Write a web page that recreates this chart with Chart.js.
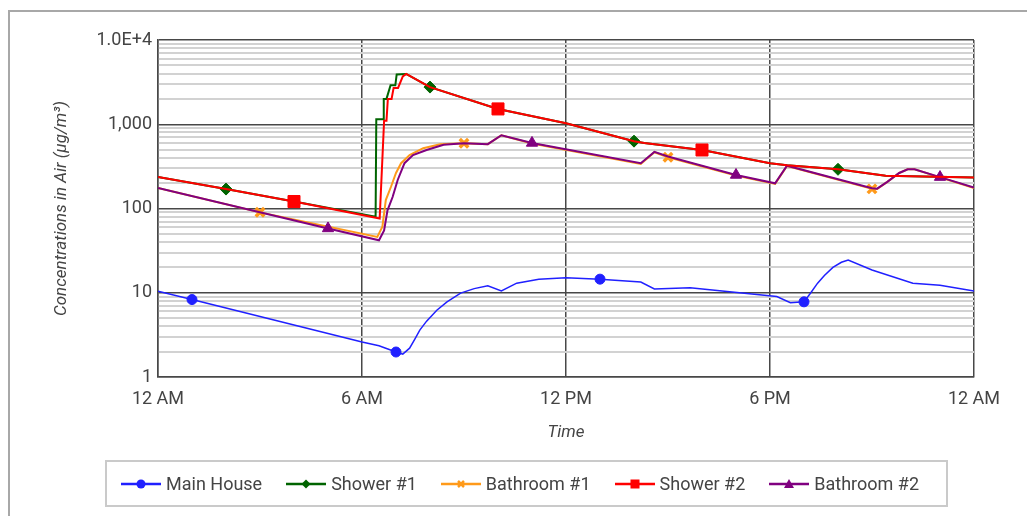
<!DOCTYPE html>
<html>
<head>
<meta charset="utf-8">
<script src="https://cdn.jsdelivr.net/npm/chart.js@4.4.1/dist/chart.umd.min.js"></script>
<style>
  body { margin: 0; background: #fff; width: 1027px; height: 516px; overflow: hidden; position: relative; font-family: Roboto, sans-serif; }
  #frame { position: absolute; left: 8px; top: 10px; width: 1100px; height: 600px; border-left: 2px solid #a8a8a8; border-top: 2px solid #a8a8a8; }
  #chart { position: absolute; left: 0; top: 0; }
  #legend { position: absolute; left: 105px; top: 460px; width: 843px; height: 47px; box-sizing: border-box;
            border: 2px solid #cacaca; display: flex; align-items: center; padding-left: 14px; }
  .item { display: flex; align-items: center; margin-right: 24px; font-size: 18px; color: #444; }
  .item svg { margin-right: 5px; }
</style>
</head>
<body>
<div id="frame"></div>
<canvas id="chart" width="1027" height="516"></canvas>
<div id="legend"></div>
<script>
// hours since midnight, concentrations in ug/m3
var mainHours = [0, 1, 6, 6.5, 7, 7.2, 7.4, 7.55, 7.7, 7.9, 8.2, 8.5, 8.9, 9.3, 9.7, 10.1, 10.55, 11.2, 12, 13, 14.2, 14.6, 15.65, 17.1, 18.2, 18.6, 19, 19.2, 19.4, 19.6, 19.85, 20.1, 20.3, 21, 22.2, 23, 24];
var mainVals  = [10.4, 8.3, 2.6, 2.35, 1.98, 1.87, 2.2, 2.8, 3.6, 4.6, 6.2, 7.8, 9.9, 11.2, 12.1, 10.5, 13, 14.5, 15.1, 14.5, 13.4, 11.1, 11.5, 10, 9, 7.6, 7.8, 10, 13, 16, 20, 23, 24.5, 18.6, 13, 12.3, 10.5];

var shower1Hours = [0, 2, 4, 6.4, 6.42, 6.62, 6.64, 6.72, 6.84, 6.98, 7.02, 7.3, 8, 10, 12, 14, 14.3, 16, 18, 18.5, 20, 21.4, 24];
var shower1Vals  = [237, 170, 121, 80, 1150, 1150, 2000, 2000, 2900, 2900, 3900, 3950, 2760, 1520, 1030, 630, 600, 495, 345, 326, 292, 244, 233];

var bath1Hours = [0, 3, 6.45, 6.6, 6.7, 6.85, 7, 7.15, 7.4, 7.8, 8.3, 9, 9.7, 10.1, 11, 14.2, 14.6, 15, 17, 18.15, 18.5, 21, 21.15, 21.45, 21.8, 22.05, 22.25, 23, 24];
var bath1Vals  = [175, 90, 46, 61, 126, 180, 264, 345, 430, 520, 580, 595, 580, 740, 590, 338, 465, 405, 246, 196, 320, 171, 170, 207, 264, 292, 292, 234, 175];

var shower2Hours = [0, 2, 4, 6.52, 6.65, 6.72, 6.76, 6.87, 6.93, 7.06, 7.2, 7.3, 8, 10, 12, 14, 14.3, 16, 18, 18.5, 20, 21.4, 24];
var shower2Vals  = [237, 170, 121, 76, 1100, 1100, 2000, 2000, 2700, 2700, 3700, 3950, 2760, 1520, 1030, 630, 600, 495, 345, 326, 292, 244, 233];

var bath2Hours = [0, 5, 6.5, 6.65, 6.75, 6.9, 7.05, 7.25, 7.5, 7.9, 8.4, 9, 9.7, 10.1, 11, 14.2, 14.6, 15, 17, 18.15, 18.5, 21, 21.15, 21.45, 21.8, 22.05, 22.25, 23, 24];
var bath2Vals  = [175, 58, 42, 55, 95, 137, 218, 345, 430, 495, 570, 595, 580, 740, 600, 345, 470, 415, 250, 199, 322, 174, 172, 207, 264, 292, 292, 236, 177];

var seriesNames = ['Main House', 'Shower #1', 'Bathroom #1', 'Shower #2', 'Bathroom #2'];
var markerHours = [[1, 7, 13, 19], [2, 8, 14, 20], [3, 9, 15, 21], [4, 10, 16, 22], [5, 11, 17, 23]];

var xTickVals = [0, 6, 12, 18, 24];
var xTickLabels = ['12 AM', '6 AM', '12 PM', '6 PM', '12 AM'];
var yMajor = [1, 10, 100, 1000, 10000];
var yTickLabels = ['1', '10', '100', '1,000', '1.0E+4'];

var colors = ['#2020ff', '#006400', '#ff9a1a', '#ff0000', '#800080'];
var styles = ['circle', 'rectRot', 'crossRot', 'rect', 'triangle'];
var radii = [5, 6, 6, 8.5, 6.5];
var widths = [1.5, 2, 2, 2, 2];
var orders = [0, 3, 4, 1, 2];

function toPoints(h, v) {
    var pts = [];
    for (var i = 0; i < h.length; i++) {
        pts.push({ x: h[i], y: v[i] });
    }
    return pts;
}

var allHours = [mainHours, shower1Hours, bath1Hours, shower2Hours, bath2Hours];
var allVals = [mainVals, shower1Vals, bath1Vals, shower2Vals, bath2Vals];

var datasets = [];
for (let i = 0; i < seriesNames.length; i++) {
    datasets.push({
        label: seriesNames[i],
        data: toPoints(allHours[i], allVals[i]),
        borderColor: colors[i],
        backgroundColor: colors[i],
        borderWidth: widths[i],
        pointStyle: styles[i],
        pointBorderWidth: i == 2 ? 3.5 : 1,
        pointRadius: function (ctx) {
            return markerHours[i].indexOf(ctx.raw.x) >= 0 ? radii[i] : 0;
        },
        pointHoverRadius: 0,
        tension: 0,
        order: orders[i]
    });
}

// y ticks: every 1..9 per decade
var yTicks = [];
for (var d = 1; d < 10000; d *= 10) {
    for (var k = 1; k < 10; k++) yTicks.push(k * d);
}
yTicks.push(10000);

function isMajor(v) {
    return yMajor.indexOf(v) >= 0;
}

var tickFont = { family: 'Roboto', size: 18 };

new Chart(document.getElementById('chart'), {
    type: 'line',
    data: { datasets: datasets },
    options: {
        responsive: false,
        animation: false,
        layout: { padding: { left: 40, top: 40, right: 53, bottom: 69 } },
        plugins: { legend: { display: false }, tooltip: { enabled: false } },
        scales: {
            x: {
                type: 'linear',
                min: 0,
                max: 24,
                afterBuildTicks: function (s) {
                    s.ticks = xTickVals.map(function (v) { return { value: v }; });
                },
                afterFit: function (s) { s.height = 70; },
                ticks: {
                    autoSkip: false, maxRotation: 0, padding: 12, color: '#444', font: tickFont,
                    callback: function (v) { return xTickLabels[xTickVals.indexOf(v)]; }
                },
                grid: { color: '#484848', lineWidth: 1.5, drawTicks: false },
                border: { color: '#484848', width: 1.5 },
                title: { display: true, text: 'Time', color: '#444', padding: { top: 2 },
                         font: { family: 'Roboto', size: 17, style: 'italic' } }
            },
            y: {
                type: 'logarithmic',
                min: 1,
                max: 10000,
                afterBuildTicks: function (s) {
                    s.ticks = yTicks.map(function (v) { return { value: v }; });
                },
                afterFit: function (s) { s.width = 118; },
                ticks: {
                    autoSkip: false, padding: 6, color: '#444', font: tickFont,
                    callback: function (v) {
                        var j = yMajor.indexOf(v);
                        return j >= 0 ? yTickLabels[j] : '';
                    }
                },
                grid: {
                    drawTicks: false,
                    color: function (c) { return isMajor(c.tick.value) ? '#484848' : '#d2d2d2'; },
                    lineWidth: function (c) { return isMajor(c.tick.value) ? 1.5 : 2; }
                },
                border: { color: '#484848', width: 1.5 },
                title: { display: true, text: 'Concentrations in Air (µg/m³)', color: '#444', padding: { top: 12, bottom: 0 },
                         font: { family: 'Roboto', size: 17, style: 'italic' } }
            }
        }
    }
});

// legend: line with marker, like the original
function markerSvg(i) {
    var c = colors[i];
    var m = '';
    if (styles[i] == 'circle') m = '<circle cx="20" cy="8" r="4.5" fill="' + c + '"/>';
    if (styles[i] == 'rectRot') m = '<polygon points="20,3.5 24.5,8 20,12.5 15.5,8" fill="' + c + '"/>';
    if (styles[i] == 'crossRot') m = '<path d="M17,5 L23,11 M23,5 L17,11" stroke="' + c + '" stroke-width="2.5"/>';
    if (styles[i] == 'rect') m = '<rect x="15.5" y="3.5" width="9" height="9" fill="' + c + '"/>';
    if (styles[i] == 'triangle') m = '<polygon points="20,3 25,12 15,12" fill="' + c + '"/>';
    return '<svg width="40" height="16"><line x1="0" y1="8" x2="40" y2="8" stroke="' + c + '" stroke-width="2.5"/>' + m + '</svg>';
}

var legendHtml = '';
for (var i = 0; i < seriesNames.length; i++) {
    legendHtml += '<div class="item">' + markerSvg(i) + '<span>' + seriesNames[i] + '</span></div>';
}
document.getElementById('legend').innerHTML = legendHtml;
</script>
</body>
</html>
